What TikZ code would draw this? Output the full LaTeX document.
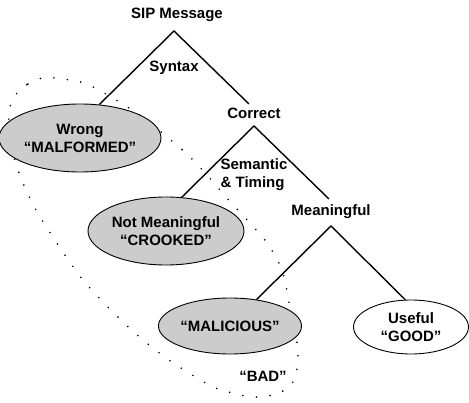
\documentclass[tikz,border=0pt]{standalone}
\usepackage{fontspec}
\setmainfont{Liberation Sans}
\usetikzlibrary{shapes.geometric}
\begin{document}
\begin{tikzpicture}[x=1pt,y=-1pt,
  lbl/.style={font=\fontsize{15}{18}\selectfont\bfseries, inner sep=1pt, align=center},
  leaf/.style={ellipse, draw=black, line width=0.9pt, inner sep=0pt, lbl},
  bad/.style={leaf, fill=black!20},
  branch/.style={line width=1.4pt},
  grp/.style={line width=1.8pt, line cap=round, dash pattern=on 0pt off 13.6pt}
]
\useasboundingbox (0,0) rectangle (469,403);
% dotted group boundary
\draw[grp] plot[smooth cycle] coordinates {
 (17,93) (28,84) (42,78) (56,78) (70,80) (84,83) (97,89) (121,103) (144,118)
 (167,137) (188,155) (207,175) (226,197) (235,207) (250,223) (267,243)
 (282,270) (290,307) (296,335) (298,362) (293,382) (283,391) (268,396)
 (254,397) (240,395) (213,387) (189,373) (166,358) (143,340) (122,321)
 (102,301) (83,280) (67,258) (51,234) (36,210) (23,183) (14,157) (9,127) (10,107)};

\node[lbl] (sip) at (177,15) {SIP Message};
\coordinate (a1) at (174,31);
\node[lbl] (syntax) at (174,68) {Syntax};
\node[bad, minimum width=134, minimum height=68] (wrong) at (80,138) {Wrong\\“MALFORMED”};
\node[lbl] (correct) at (254,113) {Correct};
\coordinate (c1) at (249,104);
\coordinate (a2) at (254,126);
\node[lbl, align=left] (sem) at (254,175) {Semantic\\\& Timing};
\node[bad, minimum width=151, minimum height=68] (notm) at (166,231) {Not Meaningful\\“CROOKED”};
\node[lbl] (mean) at (331,212) {Meaningful};
\coordinate (m1) at (329,199);
\coordinate (a3) at (331,226);
\node[bad, minimum width=118, minimum height=56] (mal) at (230,326) {“MALICIOUS”};
\node[leaf, fill=white, minimum width=115, minimum height=54] (good) at (411,327) {Useful\\“GOOD”};
\node[lbl] (badlbl) at (263,376) {“BAD”};

\draw[branch] (wrong.60) -- (a1) -- (c1);
\draw[branch] (notm.65) -- (a2) -- (m1);
\draw[branch] (mal.45) -- (a3) -- (good.102);
\end{tikzpicture}
\end{document}
